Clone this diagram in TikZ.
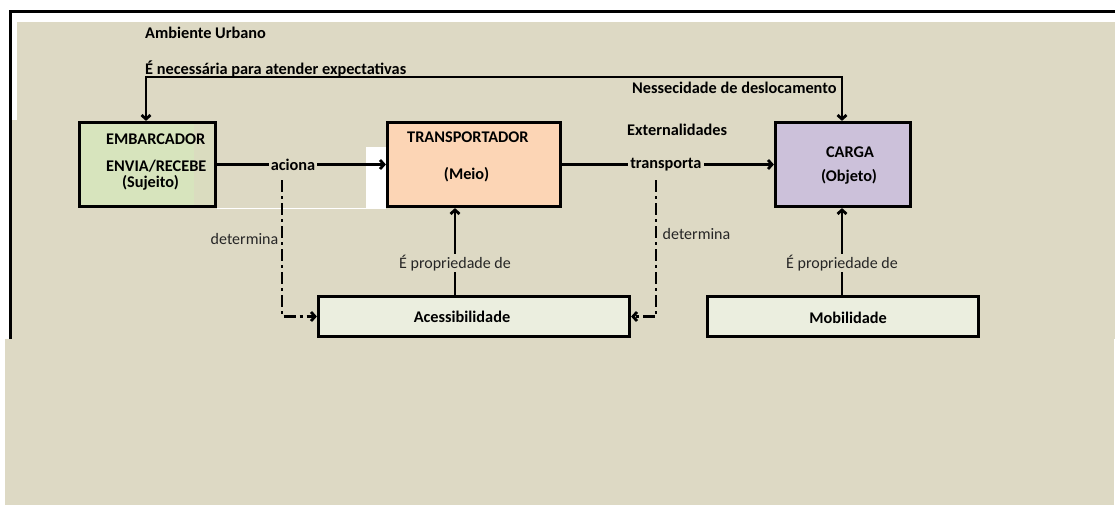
\documentclass[tikz,border=0pt]{standalone}
\usepackage{fontspec}
\setmainfont{Carlito}
\usetikzlibrary{arrows.meta}
\definecolor{bg}{HTML}{DDD9C4}
\definecolor{embgreen}{HTML}{D7E4BD}
\definecolor{embstrip}{HTML}{DADCBF}
\definecolor{peach}{HTML}{FCD5B5}
\definecolor{lav}{HTML}{CCC1DA}
\definecolor{pale}{HTML}{EBEEDF}
\definecolor{txtgray}{HTML}{262626}
\tikzset{
  box/.style={draw=black, line width=3.2pt, inner sep=0pt},
  conn/.style={draw=black, line width=2.8pt},
  dd/.style={draw=black, line width=2.8pt, dash pattern=on 12pt off 4pt on 3pt off 4pt},
  tip/.style={-{Straight Barb[length=4pt,width=9pt]}},
  lbl/.style={font=\fontsize{16.3}{18}\selectfont\bfseries, inner sep=0pt, text=black},
  rlbl/.style={font=\fontsize{16}{18}\selectfont, inner sep=0pt, text=txtgray},
  onl/.style={fill=bg, inner xsep=2pt, inner ysep=1pt}
}
\begin{document}
\begin{tikzpicture}[x=1pt,y=-1pt]
\useasboundingbox (0,0) rectangle (1115,506);
% background
\fill[white] (0,0) rectangle (1115,506);
\fill[bg] (17,22) rectangle (1115,120);
\fill[bg] (12,120) rectangle (1115,339);
\fill[bg] (5,339) rectangle (1114,505);
\fill[white] (366,147) rectangle (386,209);
\draw[white, line width=1.2pt] (217,208.3) -- (366,208.3);
\draw[black, line width=3pt] (10.5,339) -- (10.5,11.5) -- (1115,11.5);

% boxes
\node[box, fill=embgreen, minimum width=136pt, minimum height=84pt,
  path picture={\fill[embstrip] ([xshift=-21.5pt]path picture bounding box.north east) rectangle (path picture bounding box.south east);}]
  (emb) at (147.5,164.5) {};
\node[box, fill=peach, minimum width=173pt, minimum height=84pt] (trans) at (474,164.5) {};
\node[box, fill=lav, minimum width=135pt, minimum height=84pt] (carga) at (843,164.5) {};
\node[box, fill=pale, minimum width=311pt, minimum height=40pt] (acess) at (474,316.5) {};
\node[box, fill=pale, minimum width=271pt, minimum height=40pt] (mob) at (843,316.5) {};

% box texts
\node[lbl, anchor=west] (t1) at (106,139) {EMBARCADOR};
\node[lbl, anchor=west] (t2) at (106,166) {ENVIA/RECEBE};
\node[lbl] (t3) at (150.5,183) {(Sujeito)};
\node[lbl, anchor=west] (t4) at (407,137) {TRANSPORTADOR};
\node[lbl] (t5) at (466.5,175) {(Meio)};
\node[lbl] (t6) at (850,152) {CARGA};
\node[lbl] (t7) at (849,177) {(Objeto)};
\node[lbl] (t8) at (462,317) {Acessibilidade};
\node[lbl] (t9) at (848,318) {Mobilidade};

% free texts
\node[lbl, anchor=west] (amb) at (145,33) {Ambiente Urbano};
\node[lbl, anchor=west] (nec) at (145,69) {É necessária para atender expectativas};
\node[lbl, anchor=west] (nes) at (632,88) {Nessecidade de deslocamento};
\node[lbl, anchor=west] (ext) at (627,130) {Externalidades};

% top connector
\draw[conn, {Straight Barb[length=4pt,width=9pt]}-{Straight Barb[length=4pt,width=9pt]}]
  ([xshift=-1.5pt]emb.north) -- ++(0,-44) -| ([xshift=-1pt]carga.north);

% horizontal connectors
\draw[conn, tip] (emb.east) -- node[lbl, onl, pos=0.45] (aciona) {aciona} (trans.west);
\draw[conn, tip] (trans.east) -- node[lbl, onl, pos=0.49] (transp) {transporta} (carga.west);

% dash-dot connectors
\coordinate (d1s) at (282,180);
\coordinate (d2s) at (656,180);
\draw[dd, tip] (d1s) |- (acess.west);
\draw[dd, tip] (d2s) |- (acess.east);
\node[rlbl] (det1) at (244.5,239) {determina};
\node[rlbl] (det2) at (696.5,234) {determina};

% property connectors
\draw[conn, tip] ([xshift=-19pt]acess.north) -- node[rlbl, onl, pos=0.37] (p1) {É propriedade de} ([xshift=-19pt]trans.south);
\draw[conn, tip] ([xshift=-1pt]mob.north) -- node[rlbl, onl, pos=0.37] (p2) {É propriedade de} ([xshift=-1pt]carga.south);
\end{tikzpicture}
\end{document}
